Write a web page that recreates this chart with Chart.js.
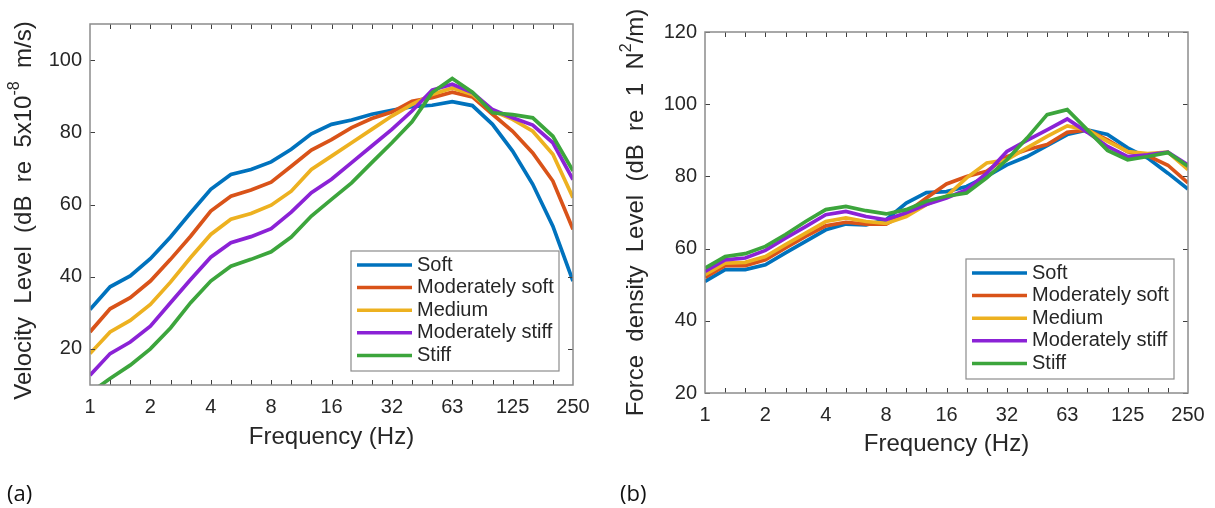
<!DOCTYPE html>
<html>
<head>
<meta charset="utf-8">
<script src="https://cdn.jsdelivr.net/npm/chart.js@4.4.1/dist/chart.umd.min.js"></script>
<style>
  html, body { margin: 0; padding: 0; background: #fff; }
  #wrap { position: relative; width: 1215px; height: 508px; overflow: hidden; }
  .panel { position: absolute; top: 0; height: 508px; }
  #pa { left: 0; width: 605px; }
  #pb { left: 605px; width: 610px; }
  .tag { position: absolute; top: 477px; font-family: "Open Sans", "Liberation Sans", sans-serif; font-size: 22px; color: #111; }
</style>
</head>
<body>
<div id="wrap">
  <div class="panel" id="pa"><canvas id="chartA" width="605" height="508"></canvas></div>
  <div class="panel" id="pb"><canvas id="chartB" width="610" height="508"></canvas></div>
  <span class="tag" style="left:7px">(a)</span>
  <span class="tag" style="left:620px">(b)</span>
</div>
<script>
// 1/3-octave band centres (Hz) and the octave labels shown on the axis
const freqBands = ["1","1.25","1.6","2","2.5","3.15","4","5","6.3","8","10","12.5","16","20","25","31.5","40","50","63","80","100","125","160","200","250"];
const octaveTicks = {0: "1", 3: "2", 6: "4", 9: "8", 12: "16", 15: "32", 18: "63", 21: "125", 24: "250"};

const seriesNames = ["Soft", "Moderately soft", "Medium", "Moderately stiff", "Stiff"];
const seriesColors = ["#0072bd", "#d95319", "#edb120", "#8b22d6", "#3ca53c"];

// (a) velocity level, dB re 5x10^-8 m/s
const vSoft     = [30.9, 37.2, 40.2, 45.0, 51.0, 57.7, 64.2, 68.3, 69.7, 71.8, 75.3, 79.6, 82.2, 83.4, 85.0, 86.1, 87.1, 87.5, 88.5, 87.4, 82.2, 74.8, 65.6, 54.0, 38.8];
const vModSoft  = [24.7, 31.1, 34.2, 38.8, 44.8, 51.2, 58.2, 62.3, 64.0, 66.2, 70.6, 75.1, 78.0, 81.3, 83.8, 85.6, 88.6, 89.6, 91.1, 89.8, 85.0, 80.3, 74.3, 66.5, 53.1];
const vMedium   = [18.7, 24.7, 27.9, 32.3, 38.5, 45.3, 51.7, 55.9, 57.5, 59.8, 63.7, 69.7, 73.4, 77.1, 80.8, 84.5, 87.7, 90.5, 92.3, 90.5, 85.9, 83.6, 80.3, 73.9, 61.9];
const vModStiff = [12.7, 18.7, 21.9, 26.3, 32.8, 39.2, 45.4, 49.4, 51.1, 53.3, 57.9, 63.3, 67.0, 71.6, 76.2, 80.8, 85.9, 91.7, 93.3, 91.0, 86.3, 84.0, 82.0, 77.1, 66.9];
const vStiff    = [7.8, 11.8, 15.5, 20.0, 25.8, 32.8, 38.8, 42.9, 44.8, 46.9, 51.0, 56.8, 61.4, 66.0, 71.6, 77.1, 82.9, 91.0, 94.9, 91.1, 85.4, 84.9, 84.0, 78.9, 69.3];
const vTicks = [20, 40, 60, 80, 100];

// (b) force density level, dB re 1 N^2/m
const fSoft     = [50.9, 54.2, 54.2, 55.5, 58.8, 62.0, 65.2, 66.8, 66.6, 68.0, 72.6, 75.5, 75.8, 77.2, 80.0, 83.2, 85.5, 88.5, 91.6, 92.9, 91.6, 87.9, 85.1, 80.9, 76.5];
const fModSoft  = [52.0, 55.3, 55.3, 56.9, 60.2, 63.4, 66.3, 67.3, 66.8, 66.8, 69.9, 74.0, 77.9, 80.0, 81.4, 85.5, 87.4, 88.8, 92.2, 92.9, 90.1, 86.8, 85.7, 83.1, 78.2];
const fMedium   = [52.8, 56.0, 56.2, 57.8, 61.1, 64.3, 67.5, 68.5, 67.5, 67.0, 68.9, 72.2, 74.5, 79.6, 83.7, 84.6, 87.9, 91.1, 94.0, 92.9, 89.7, 86.9, 86.3, 86.7, 81.9];
const fModStiff = [53.7, 56.9, 57.4, 59.5, 62.9, 66.1, 69.4, 70.3, 68.9, 68.0, 69.9, 72.2, 74.0, 76.3, 80.9, 86.9, 90.0, 92.9, 95.9, 92.2, 88.3, 85.5, 86.0, 86.7, 83.2];
const fStiff    = [54.6, 57.8, 58.6, 60.6, 63.9, 67.5, 70.8, 71.7, 70.5, 69.6, 70.8, 73.1, 74.5, 75.4, 79.6, 84.6, 90.6, 97.1, 98.5, 92.9, 87.2, 84.6, 85.5, 86.6, 82.8];
const fTicks = [20, 40, 60, 80, 100, 120];

const FONT = '"Liberation Sans", Arial, sans-serif';
const TEXT = '#262626';

// axes box, inward ticks on all four sides, legend and axis titles
const framePlugin = {
  id: 'frame',
  afterDraw(chart, args, o) {
    const ctx = chart.ctx;
    const a = chart.chartArea;
    const x = chart.scales.x, y = chart.scales.y;
    ctx.save();

    ctx.strokeStyle = '#404040';
    ctx.lineWidth = 1;
    ctx.beginPath();
    for (let i = 1; i < freqBands.length - 1; i++) {
      const px = Math.round(x.getPixelForValue(i)) + 0.5;
      ctx.moveTo(px, a.bottom); ctx.lineTo(px, a.bottom - 5);
      ctx.moveTo(px, a.top); ctx.lineTo(px, a.top + 5);
    }
    y.ticks.forEach(t => {
      const py = Math.round(y.getPixelForValue(t.value)) + 0.5;
      ctx.moveTo(a.left, py); ctx.lineTo(a.left + 5, py);
      ctx.moveTo(a.right, py); ctx.lineTo(a.right - 5, py);
    });
    ctx.stroke();

    ctx.strokeStyle = '#8c8c8c';
    ctx.lineWidth = 1.5;
    ctx.strokeRect(a.left, a.top, a.right - a.left, a.bottom - a.top);

    // legend in the lower right corner
    const lw = 208, lh = 120;
    const lx = a.right - 14 - lw, ly = a.bottom - 14 - lh;
    ctx.fillStyle = '#fff';
    ctx.fillRect(lx, ly, lw, lh);
    ctx.strokeStyle = '#8c8c8c';
    ctx.lineWidth = 1.2;
    ctx.strokeRect(lx, ly, lw, lh);
    ctx.font = '20px ' + FONT;
    ctx.textBaseline = 'middle';
    ctx.textAlign = 'left';
    chart.data.datasets.forEach((ds, i) => {
      const ry = ly + 14 + i * 22.6;
      ctx.strokeStyle = ds.borderColor;
      ctx.lineWidth = 3.5;
      ctx.beginPath();
      ctx.moveTo(lx + 6, ry); ctx.lineTo(lx + 61, ry);
      ctx.stroke();
      ctx.fillStyle = TEXT;
      ctx.fillText(ds.label, lx + 66, ry);
    });

    // x title
    ctx.fillStyle = TEXT;
    ctx.font = '24px ' + FONT;
    ctx.textAlign = 'center';
    ctx.fillText('Frequency (Hz)', (a.left + a.right) / 2, a.bottom + o.xTitleGap);

    // y title with a raised exponent
    ctx.translate(o.yTitleX, (a.top + a.bottom) / 2 + o.yTitleShift);
    ctx.rotate(-Math.PI / 2);
    ctx.textAlign = 'left';
    const big = '24px ' + FONT, small = '16px ' + FONT;
    let total = 0;
    o.yTitle.forEach(p => { ctx.font = p.sup ? small : big; total += ctx.measureText(p.t).width; });
    let cx = -total / 2;
    o.yTitle.forEach(p => {
      ctx.font = p.sup ? small : big;
      ctx.fillText(p.t, cx, p.sup ? -9 : 0);
      cx += ctx.measureText(p.t).width;
    });
    ctx.restore();
  }
};

function makePanel(id, series, yMin, yMax, yTicks, g) {
  const datasets = series.map((vals, i) => ({
    label: seriesNames[i],
    data: vals,
    borderColor: seriesColors[i],
    backgroundColor: seriesColors[i],
    borderWidth: 3.7,
    pointRadius: 0,
    tension: 0,
    fill: false,
    clip: 0,
    order: series.length - i
  }));
  return new Chart(id, {
    type: 'line',
    data: { labels: freqBands, datasets: datasets },
    options: {
      responsive: false,
      animation: false,
      devicePixelRatio: 1,
      layout: { padding: { left: 0, top: g.top, right: g.right, bottom: 0 } },
      plugins: {
        legend: { display: false },
        tooltip: { enabled: false },
        frame: { yTitle: g.yTitle, yTitleX: g.yTitleX, yTitleShift: g.yTitleShift, xTitleGap: g.xTitleGap }
      },
      scales: {
        x: {
          type: 'category',
          offset: false,
          grid: { display: false, drawTicks: false },
          border: { display: false },
          ticks: {
            autoSkip: false, maxRotation: 0, minRotation: 0, padding: 10,
            color: TEXT, font: { family: FONT, size: 20 },
            callback: (v, i) => octaveTicks[i] || ''
          },
          afterFit: s => { s.height = g.xh; s.paddingLeft = 0; s.paddingRight = 0; }
        },
        y: {
          min: yMin, max: yMax,
          grid: { display: false, drawTicks: false },
          border: { display: false },
          ticks: { padding: 8, color: TEXT, font: { family: FONT, size: 20 } },
          afterBuildTicks: s => { s.ticks = yTicks.map(v => ({ value: v })); },
          afterFit: s => { s.width = g.yw; s.paddingTop = 0; s.paddingBottom = 0; }
        }
      }
    },
    plugins: [framePlugin]
  });
}

makePanel('chartA', [vSoft, vModSoft, vMedium, vModStiff, vStiff], 10, 110, vTicks, {
  top: 24, right: 32, yw: 90, xh: 123, xTitleGap: 52, yTitleX: 24, yTitleShift: 6,
  yTitle: [{ t: 'Velocity  Level  (dB  re  5x10' }, { t: '-8', sup: true }, { t: '  m/s)' }]
});

makePanel('chartB', [fSoft, fModSoft, fMedium, fModStiff, fStiff], 20, 120, fTicks, {
  top: 32, right: 27, yw: 100, xh: 115, xTitleGap: 51, yTitleX: 31, yTitleShift: 0,
  yTitle: [{ t: 'Force  density  Level  (dB  re  1  N' }, { t: '2', sup: true }, { t: '/m)' }]
});
</script>
</body>
</html>
